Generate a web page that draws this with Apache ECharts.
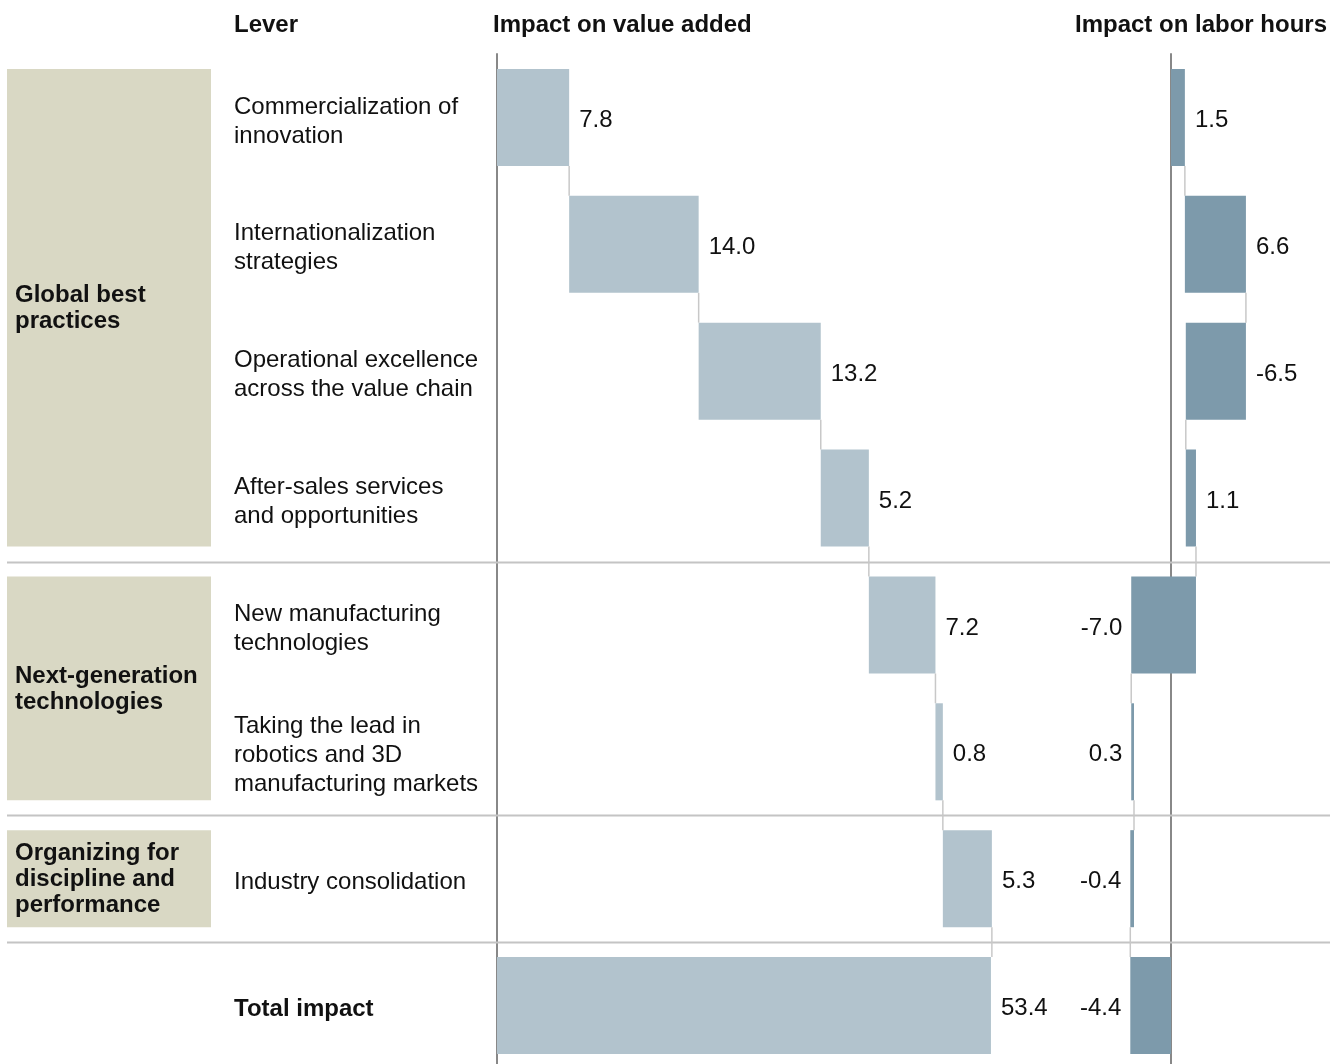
<!DOCTYPE html>
<html>
<head>
<meta charset="utf-8">
<script src="https://cdn.jsdelivr.net/npm/echarts@6/dist/echarts.min.js"></script>
<style>
  html, body { margin: 0; padding: 0; background: #fff; }
  #chart { width: 1344px; height: 1064px; }
</style>
</head>
<body>
<div id="chart"></div>
<script>
// data
const levers = [
  'Commercialization of\ninnovation',
  'Internationalization\nstrategies',
  'Operational excellence\nacross the value chain',
  'After-sales services\nand opportunities',
  'New manufacturing\ntechnologies',
  'Taking the lead in\nrobotics and 3D\nmanufacturing markets',
  'Industry consolidation',
  'Total impact'
];
const valueAdded = [7.8, 14.0, 13.2, 5.2, 7.2, 0.8, 5.3, 53.4];
const laborHours = [1.5, 6.6, -6.5, 1.1, -7.0, 0.3, -0.4, -4.4];
const groupNames = ['Global best\npractices', 'Next-generation\ntechnologies', 'Organizing for\ndiscipline and\nperformance'];
const groupFirst = [0, 4, 6];
const groupLast = [3, 5, 6];
const separatorRows = [4, 6, 7];

const FONT = "'Liberation Sans', Arial, sans-serif";
const BAR_RATIO = 0.765;
const TEXT_DY = 3;

// waterfall steps, last row is the total from zero
function buildSteps(values) {
  const rows = [];
  let cum = 0;
  for (let i = 0; i < values.length; i++) {
    if (i === values.length - 1) {
      rows.push([i, 0, values[i], values[i]]);
    } else {
      rows.push([i, cum, cum + values[i], values[i]]);
      cum += values[i];
    }
  }
  return rows;
}
const vaSteps = buildSteps(valueAdded);
const lhSteps = buildSteps(laborHours);

function waterfallItem(steps, color, sideRule) {
  return function (params, api) {
    const i = api.value(0);
    const s = api.value(1), e = api.value(2), v = api.value(3);
    const p0 = api.coord([s, i]);
    const p1 = api.coord([e, i]);
    const band = api.size([0, 1])[1];
    const h = band * BAR_RATIO;
    const x0 = Math.min(p0[0], p1[0]);
    const x1 = Math.max(p0[0], p1[0]);
    const children = [{
      type: 'rect',
      shape: { x: x0, y: p0[1] - h / 2, width: Math.max(x1 - x0, 1), height: h },
      style: { fill: color }
    }];
    if (i < steps.length - 1) {
      // connector from this bar's end down to the next bar
      children.push({
        type: 'line',
        shape: { x1: p1[0], y1: p0[1] + h / 2, x2: p1[0], y2: p0[1] + band - h / 2 },
        style: { stroke: '#c8c8c8', lineWidth: 1.5 }
      });
    }
    const right = sideRule(s, e);
    children.push({
      type: 'text',
      style: {
        x: right ? x1 + 10 : x0 - 9,
        y: p0[1] + TEXT_DY,
        text: v.toFixed(1),
        fill: '#111',
        font: '24px ' + FONT,
        align: right ? 'left' : 'right',
        verticalAlign: 'middle'
      },
      z2: 5
    });
    return { type: 'group', children: children };
  };
}

const chart = echarts.init(document.getElementById('chart'));

const headStyle = { fontSize: 24, fontWeight: 'bold', color: '#111', fontFamily: FONT };

const option = {
  animation: false,
  textStyle: { fontFamily: FONT },
  title: [
    { text: 'Lever', left: 234, top: 13, padding: 0, textStyle: headStyle },
    { text: 'Impact on value added', left: 493, top: 13, padding: 0, textStyle: headStyle },
    { text: 'Impact on labor hours', right: 17, top: 13, padding: 0, textStyle: headStyle }
  ],
  grid: [
    { left: 497, top: 54, width: 555, height: 1015, outerBoundsMode: 'none', containLabel: false },
    { left: 1078.5, top: 54, width: 231.25, height: 1015, outerBoundsMode: 'none', containLabel: false }
  ],
  xAxis: [
    { gridIndex: 0, type: 'value', min: 0, max: 60, show: false },
    { gridIndex: 1, type: 'value', min: -10, max: 15, show: false }
  ],
  yAxis: [
    {
      gridIndex: 0, type: 'category', inverse: true, data: levers,
      axisLine: { lineStyle: { color: '#888', width: 2 } },
      axisTick: { show: false },
      axisLabel: {
        align: 'left', margin: 263, fontSize: 24, lineHeight: 29, color: '#111', fontFamily: FONT,
        padding: [TEXT_DY * 2 + 2, 0, 0, 0],
        formatter: function (val, idx) { return idx === levers.length - 1 ? '{b|' + val + '}' : val; },
        rich: { b: { fontWeight: 'bold', fontSize: 24, color: '#111', fontFamily: FONT } }
      },
      splitLine: { show: false }
    },
    {
      gridIndex: 1, type: 'category', inverse: true, data: levers,
      axisLine: { onZero: true, lineStyle: { color: '#888', width: 2 } },
      axisTick: { show: false },
      axisLabel: { show: false },
      splitLine: { show: false }
    }
  ],
  series: [
    {
      // group boxes on the left
      type: 'custom',
      xAxisIndex: 0, yAxisIndex: 0,
      data: groupNames.map((n, k) => [0, groupFirst[k], groupLast[k], k]),
      encode: { x: 0, y: [1, 2] },
      z: 1,
      renderItem: function (params, api) {
        const a = api.value(1), b = api.value(2), k = api.value(3);
        const band = api.size([0, 1])[1];
        const h = band * BAR_RATIO;
        const top = api.coord([0, a])[1] - h / 2;
        const bottom = api.coord([0, b])[1] + h / 2;
        return {
          type: 'group',
          children: [
            { type: 'rect', shape: { x: 7, y: top, width: 204, height: bottom - top }, style: { fill: '#d9d8c4' } },
            {
              type: 'text',
              style: {
                x: 15, y: (top + bottom) / 2 + 1, text: groupNames[k],
                font: 'bold 24px ' + FONT, lineHeight: 26, fill: '#111',
                align: 'left', verticalAlign: 'middle'
              }
            }
          ]
        };
      }
    },
    {
      // row separators
      type: 'custom',
      xAxisIndex: 0, yAxisIndex: 0,
      data: separatorRows.map(r => [0, r]),
      encode: { x: 0, y: 1 },
      z: 1,
      renderItem: function (params, api) {
        const r = api.value(1);
        const band = api.size([0, 1])[1];
        const y = Math.round(api.coord([0, r])[1] - band / 2) + 0.5;
        return {
          type: 'line',
          shape: { x1: 7, y1: y, x2: 1330, y2: y },
          style: { stroke: '#c4c4c4', lineWidth: 2 }
        };
      }
    },
    {
      type: 'custom',
      name: 'Impact on value added',
      xAxisIndex: 0, yAxisIndex: 0,
      data: vaSteps,
      encode: { x: [1, 2], y: 0 },
      z: 3,
      renderItem: waterfallItem(vaSteps, '#b2c3cd', () => true)
    },
    {
      type: 'custom',
      name: 'Impact on labor hours',
      xAxisIndex: 1, yAxisIndex: 1,
      data: lhSteps,
      encode: { x: [1, 2], y: 0 },
      z: 3,
      renderItem: waterfallItem(lhSteps, '#7d9aab', (s, e) => Math.min(s, e) >= 0)
    }
  ]
};

chart.setOption(option);
</script>
</body>
</html>
